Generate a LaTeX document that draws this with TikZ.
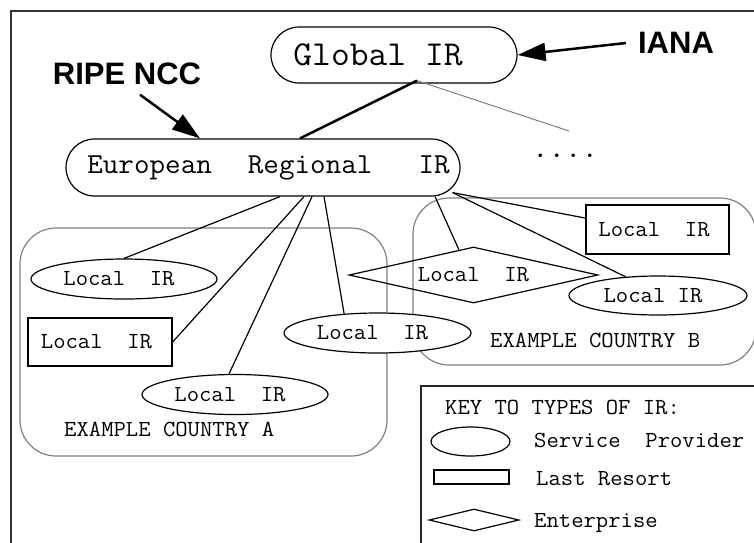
\documentclass[tikz,border=0pt]{standalone}
\usepackage{fontspec}
\setmainfont{Latin Modern Mono}[FakeStretch=1.043]
\newfontfamily\labelfont{Liberation Sans}
\usetikzlibrary{shapes.geometric,arrows.meta}

\begin{document}
\begin{tikzpicture}[x=1pt,y=-1pt]
    \tikzstyle{every node}=[inner sep=0pt]
    \tikzstyle{small}=[font=\fontsize{23}{27}\selectfont]
    \tikzstyle{pill}=[draw,line width=1.2pt,fill=white]
    \tikzstyle{sp}=[ellipse,draw,line width=1.2pt,fill=white,small,minimum width=186pt,minimum height=40pt,execute at end node=\hspace*{10pt}]
    \tikzstyle{lr}=[rectangle,draw,line width=1.2pt,fill=white,small,minimum width=144pt,minimum height=48pt,execute at end node=\hspace*{7pt}]
    \tikzstyle{ent}=[diamond,draw,line width=1.2pt,small,aspect=4.45,minimum width=249pt,minimum height=56pt]
    \tikzstyle{country}=[draw=gray,line width=1.2pt,rounded corners=36pt]
    \tikzstyle{link}=[line width=1.2pt]
    \tikzstyle{bigarrow}=[line width=2.5pt,-{Triangle[length=28pt,width=18pt]}]
    \tikzstyle{orgname}=[font=\labelfont\bfseries\fontsize{31}{36}\selectfont]

    \useasboundingbox (0,0) rectangle (754,542);
    \clip (0,0) rectangle (754,542);
    % frame and key box
    \draw[line width=2pt,black!80] (11,560) -- (11,11) -- (770,11);
    \draw[line width=2pt,black!85] (421,560) -- (421,386) -- (770,386);

    % the two countries
    \draw[country] (20,228) rectangle (387,456);
    \draw[country] (413,198) rectangle (756,365);

    % registries
    \node[pill,rounded corners=28pt,minimum width=246pt,minimum height=56pt,font=\fontsize{35}{40}\selectfont] (global) at (394,55) {Global IR\hspace*{32pt}};
    \node[pill,rounded corners=28.5pt,minimum width=394pt,minimum height=57pt,font=\fontsize{29}{33}\selectfont] (euro) at (263,167.5) {\hspace*{11pt}European\hspace{36pt}Regional\hspace{46pt}IR};
    \node[font=\fontsize{30.7}{33}\selectfont,anchor=base] (more) at (565,157) {....};
    \coordinate (moreend) at (569,131);

    \node[sp] (a1) at (124,279) {Local~~IR};
    \node[lr] (a2) at (100,342) {Local~~IR};
    \node[sp] (a3) at (235,394.5) {Local~~IR};
    \node[sp,minimum width=187pt] (a4) at (377.5,333) {Local~~IR};
    \node[ent] (dia) at (473.5,275) {Local~~IR};
    \node[lr,minimum width=143pt,minimum height=49pt] (b1) at (657.5,229.5) {Local~~IR};
    \node[sp,minimum width=178pt,minimum height=39pt] (b2) at (658,295.5) {Local~IR};

    \node[small,anchor=base west] (ctya) at (64,436) {EXAMPLE COUNTRY A};
    \node[small,anchor=base west] (ctyb) at (490,347) {EXAMPLE COUNTRY B};

    % who runs them
    \node[orgname] (ripe) at (127,73.5) {RIPE NCC};
    \node[orgname] (iana) at (676,43) {IANA};
    \draw[bigarrow] ([xshift=13pt,yshift=-10pt]ripe.south) -- ([xshift=-63pt]euro.north);
    \draw[bigarrow] ([xshift=-12pt]iana.west) -- (global.east);

    % delegation
    \draw[line width=2.5pt] ([xshift=23pt,yshift=3pt]global.south) -- ([xshift=37pt]euro.north);
    \draw[gray,line width=1pt] ([xshift=23pt,yshift=3pt]global.south) -- (moreend);
    \draw[link] ([xshift=17pt]euro.south) -- (a1.north);
    \draw[link] ([xshift=41pt]euro.south) -- (a2.east);
    \draw[link] ([xshift=49pt]euro.south) -- ([xshift=-6pt]a3.north);
    \draw[link] ([xshift=61pt]euro.south) -- (a4.150);
    \draw[link] ([xshift=172pt]euro.south) -- (dia.120);
    \draw[link] ([shift={(-8pt,4pt)}]euro.south east) -- (b1.171);
    \draw[link] ([shift={(-8pt,4pt)}]euro.south east) -- (b2.150);

    % key
    \node[small,anchor=base west] (keytitle) at (445,414) {KEY TO TYPES OF IR:};
    \node[ellipse,draw,line width=1.2pt,minimum width=79pt,minimum height=29pt] (keysp) at (470.5,441.5) {};
    \node[small,anchor=base west] (keysptext) at (534,447) {Service~~Provider};
    \node[draw,line width=1.2pt,minimum width=75pt,minimum height=14pt] (keylr) at (471.5,477) {};
    \node[small,anchor=base west] (keylrtext) at (536,485) {Last Resort};
    \node[diamond,draw,line width=1.2pt,aspect=4,minimum width=90pt,minimum height=22pt] (keyent) at (474,520) {};
    \node[small,anchor=base west] (keyenttext) at (534,527) {Enterprise};
\end{tikzpicture}
\end{document}
